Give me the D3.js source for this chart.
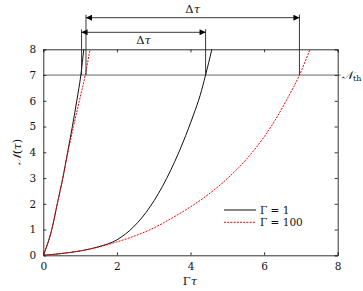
<!DOCTYPE html>
<html><head><meta charset="utf-8">
<script src="https://cdn.jsdelivr.net/npm/d3@7"></script>
<style>
body{margin:0;background:#fff;}
svg text{fill:#111;}
</style></head>
<body><svg id="c" width="363" height="291"></svg>
<script>
// Data
const xTicks = [0, 2, 4, 6, 8];
const yTicks = [0, 1, 2, 3, 4, 5, 6, 7, 8];
const threshold = 7;
// Γ = 1 (black solid), fast branch
const g1FastTau = [0, 0.23, 0.38, 0.53, 0.66, 0.79, 0.91, 1.02, 1.10, 1.13];
const g1FastN   = [0, 1, 2, 3, 4, 5, 6, 7, 8, 8.4];
// Γ = 100 (red dashed), fast branch
const g100FastTau = [0, 0.23, 0.38, 0.53, 0.67, 0.82, 0.98, 1.14, 1.27, 1.32];
const g100FastN   = [0, 1, 2, 3, 4, 5, 6, 7, 8, 8.4];
// Γ = 1 (black solid), slow branch
const g1SlowTau = [0, 0.5, 1.0, 1.5, 2.0, 2.45, 2.9, 3.35, 3.8, 4.08, 4.26, 4.41, 4.58, 4.65];
const g1SlowN   = [0, 0.07, 0.17, 0.33, 0.6, 1.1, 1.88, 2.98, 4.4, 5.45, 6.2, 7.0, 8.0, 8.45];
// Γ = 100 (red dashed), slow branch
const g100SlowTau = [0, 0.5, 1.0, 1.5, 2.0, 2.5, 3.0, 3.5, 4.0, 4.5, 5.0, 5.5, 6.0, 6.3, 6.6, 6.96, 7.25, 7.35];
const g100SlowN   = [0, 0.07, 0.17, 0.32, 0.52, 0.76, 1.06, 1.45, 1.88, 2.38, 2.98, 3.7, 4.6, 5.25, 6.0, 7.0, 8.0, 8.35];
// Δτ arrows: crossings with the threshold
const deltaInner = [1.04, 4.41];
const deltaOuter = [1.16, 6.96];
const legendLabels = ["Γ = 1", "Γ = 100"];

const svg = d3.select("#c");
const L = 43.3, R = 337.7, T = 49.3, B = 255.3;
const x = d3.scaleLinear().domain([0, 8]).range([L, R]);
const y = d3.scaleLinear().domain([0, 8]).range([B, T]);
const axisCol = "#333";
const FONT = "'DejaVu Serif', serif";

svg.append("defs").append("clipPath").attr("id", "clip")
  .append("rect").attr("x", L).attr("y", T).attr("width", R - L).attr("height", B - T);
const mk = svg.select("defs").append("marker").attr("id", "ah")
  .attr("viewBox", "0 0 10 10").attr("refX", 10).attr("refY", 5)
  .attr("markerWidth", 8).attr("markerHeight", 6).attr("markerUnits", "userSpaceOnUse")
  .attr("orient", "auto-start-reverse");
mk.append("path").attr("d", "M0,0L10,5L0,10z").attr("fill", "#000");

// threshold line
svg.append("line").attr("x1", L).attr("x2", R + 3).attr("y1", y(threshold)).attr("y2", y(threshold))
  .attr("stroke", "#555").attr("stroke-width", 0.9);

// axes with inward ticks
const tl = -3;
const gs = [];
gs.push(svg.append("g").attr("transform", `translate(0,${B})`)
  .call(d3.axisBottom(x).tickValues(xTicks).tickSize(tl).tickPadding(7).tickFormat(d3.format("d"))));
gs.push(svg.append("g").attr("transform", `translate(0,${T})`)
  .call(d3.axisTop(x).tickValues(xTicks).tickSize(tl).tickFormat("")));
gs.push(svg.append("g").attr("transform", `translate(${L},0)`)
  .call(d3.axisLeft(y).tickValues(yTicks).tickSize(tl).tickPadding(7).tickFormat(d3.format("d"))));
gs.push(svg.append("g").attr("transform", `translate(${R},0)`)
  .call(d3.axisRight(y).tickValues(yTicks).tickSize(tl).tickFormat("")));
gs.forEach(g => g.attr("font-family", FONT).attr("font-size", 10.5));
svg.selectAll(".domain").attr("stroke", axisCol).attr("stroke-width", 1);
svg.selectAll(".tick line").attr("stroke", axisCol);
svg.selectAll(".tick text").attr("fill", "#111");

// curves
const line = d3.line().x(d => x(d[0])).y(d => y(d[1])).curve(d3.curveMonotoneX);
const series = [
  {tau: g1SlowTau, n: g1SlowN, col: "#111", dash: null},
  {tau: g100SlowTau, n: g100SlowN, col: "#ff0000", dash: "2,1.2"},
  {tau: g1FastTau, n: g1FastN, col: "#111", dash: null},
  {tau: g100FastTau, n: g100FastN, col: "#ff0000", dash: "2,1.2"},
];
const cg = svg.append("g").attr("clip-path", "url(#clip)");
series.forEach(s => {
  cg.append("path").datum(s.tau.map((t, i) => [t, s.n[i]]))
    .attr("d", line).attr("fill", "none").attr("stroke", s.col)
    .attr("stroke-width", 1).attr("stroke-dasharray", s.dash);
});

// Δτ annotations
const yInner = 32.3, yOuter = 17.7;
[[deltaInner, yInner], [deltaOuter, yOuter]].forEach(([d, ya]) => {
  d.forEach(t => svg.append("line").attr("x1", x(t)).attr("x2", x(t))
    .attr("y1", ya - 3).attr("y2", y(threshold)).attr("stroke", "#222").attr("stroke-width", 0.9));
  svg.append("line").attr("x1", x(d[0])).attr("x2", x(d[1])).attr("y1", ya).attr("y2", ya)
    .attr("stroke", "#222").attr("stroke-width", 0.9)
    .attr("marker-start", "url(#ah)").attr("marker-end", "url(#ah)");
});
const txt = (tx, ty, size, anchor) => svg.append("text").attr("x", tx).attr("y", ty)
  .attr("text-anchor", anchor || "start").attr("font-family", FONT).attr("font-size", size);
const dt = (tx, ty) => {
  const t = txt(tx, ty, 11.5, "middle");
  t.append("tspan").text("Δ");
  t.append("tspan").attr("font-style", "italic").text("τ");
};
dt((x(deltaInner[0]) + x(deltaInner[1])) / 2, 43.5);
dt((x(deltaOuter[0]) + x(deltaOuter[1])) / 2, 12.5);

// N_th label
const nth = txt(342, y(threshold) + 4, 11.5);
nth.append("tspan").attr("font-style", "italic").text("𝒩");
nth.append("tspan").attr("dy", 2).attr("font-size", 8).text("th");

// axis titles
const xl = txt(190, 285, 11.5, "middle");
xl.append("tspan").text("Γ");
xl.append("tspan").attr("font-style", "italic").text("τ");
const yl = svg.append("text").attr("transform", "translate(21,152) rotate(-90)")
  .attr("text-anchor", "middle").attr("font-family", FONT).attr("font-size", 11.5);
yl.append("tspan").attr("font-style", "italic").text("𝒩");
yl.append("tspan").text("(");
yl.append("tspan").attr("font-style", "italic").text("τ");
yl.append("tspan").text(")");

// legend
[["#111", null], ["#ff0000", "2,1.2"]].forEach((st, i) => {
  const ly = 210 + i * 12.3;
  svg.append("line").attr("x1", 224).attr("x2", 256).attr("y1", ly).attr("y2", ly)
    .attr("stroke", st[0]).attr("stroke-width", 1).attr("stroke-dasharray", st[1]);
  txt(260, ly + 4, 10.5, "start").text(legendLabels[i]);
});
</script></body></html>
